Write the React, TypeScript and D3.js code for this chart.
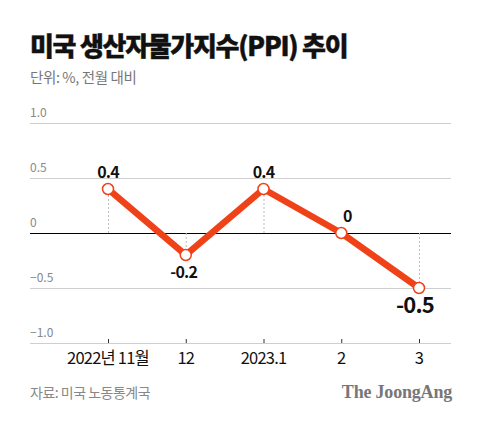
import React from "react";
import * as d3 from "d3";

const categories = ["2022년 11월", "12", "2023.1", "2", "3"];
const values = [0.4, -0.2, 0.4, 0, -0.5];
const valueLabels = ["0.4", "-0.2", "0.4", "0", "-0.5"];
const yTicks = [1.0, 0.5, 0, -0.5, -1.0];
const yTickLabels = ["1.0", "0.5", "0", "−0.5", "−1.0"];

const W = 480;
const H = 422;
const plotLeft = 30;
const plotRight = 451;
const LINE = "#ef4219";
const FONT = "'Noto Sans CJK KR', 'Noto Sans', sans-serif";

export default function App() {
  const x = d3.scalePoint<string>().domain(categories).range([108, 419]);
  const y = d3.scaleLinear().domain([-1, 1]).range([343, 123]);
  const line = d3
    .line<number>()
    .x((_, i) => x(categories[i]) as number)
    .y((d) => y(d));

  return (
    <svg
      width={W}
      height={H}
      style={{ position: "absolute", left: 0, top: 0, background: "#fff" }}
    >
      <text x={30} y={56} fontFamily={FONT} fontWeight={900} fontSize={26} letterSpacing={-1.3} fill="#111" stroke="#111" strokeWidth={0.4}>
        미국 생산자물가지수(PPI) 추이
      </text>
      <text x={30} y={83} fontFamily={FONT} fontSize={14.5} letterSpacing={-0.4} fill="#777">
        단위: %, 전월 대비
      </text>

      {yTicks.map((t, i) => (
        <g key={i}>
          <line
            x1={plotLeft}
            x2={plotRight}
            y1={y(t) + 0.5}
            y2={y(t) + 0.5}
            stroke={t === 0 ? "#000" : "#cfcfcf"}
            strokeWidth={1}
          />
          <text x={30} y={y(t) - 6} fontFamily={FONT} fontSize={12} fill="#888">
            {yTickLabels[i]}
          </text>
        </g>
      ))}

      {categories.map((c, i) => (
        <g key={c}>
          <line x1={(x(c) as number) + 0.5} x2={(x(c) as number) + 0.5} y1={y(-1) - 4} y2={y(-1)} stroke="#333" strokeWidth={1} />
          <text
            x={x(c)}
            y={364}
            textAnchor="middle"
            fontFamily={FONT}
            fontSize={16.5}
            letterSpacing={-0.8}
            fill="#111"
          >
            {c}
          </text>
          {values[i] !== 0 && (
            <line
              x1={(x(c) as number) + 0.5}
              x2={(x(c) as number) + 0.5}
              y1={y(0)}
              y2={y(values[i])}
              stroke="#bbb"
              strokeWidth={1}
              strokeDasharray="2,2"
            />
          )}
        </g>
      ))}

      <path d={line(values) || ""} fill="none" stroke={LINE} strokeWidth={6.5} strokeLinejoin="round" />

      {values.map((v, i) => (
        <circle key={i} cx={x(categories[i])} cy={y(v)} r={5.5} fill="#fff" stroke={LINE} strokeWidth={1.5} />
      ))}

      {values.map((v, i) => {
        const big = i === values.length - 1;
        const cx = (x(categories[i]) as number) + (v === 0 ? 6 : big ? -4 : v < 0 ? -2 : 0);
        const cy = v >= 0 ? y(v) - 11 : y(v) + (big ? 25 : 23);
        return (
          <text
            key={i}
            x={cx}
            y={cy}
            textAnchor="middle"
            fontFamily={FONT}
            fontWeight={700}
            fontSize={big ? 22 : 16}
            letterSpacing={-0.8}
            fill="#111"
          >
            {valueLabels[i]}
          </text>
        );
      })}

      <text x={30} y={398} fontFamily={FONT} fontSize={14} letterSpacing={-0.5} fill="#888">
        자료: 미국 노동통계국
      </text>
      <text
        x={452}
        y={398}
        textAnchor="end"
        fontFamily="'Liberation Serif', 'DejaVu Serif', serif"
        fontWeight={700}
        fontSize={18}
        letterSpacing={-0.2}
        fill="#777"
      >
        The JoongAng
      </text>
    </svg>
  );
}
